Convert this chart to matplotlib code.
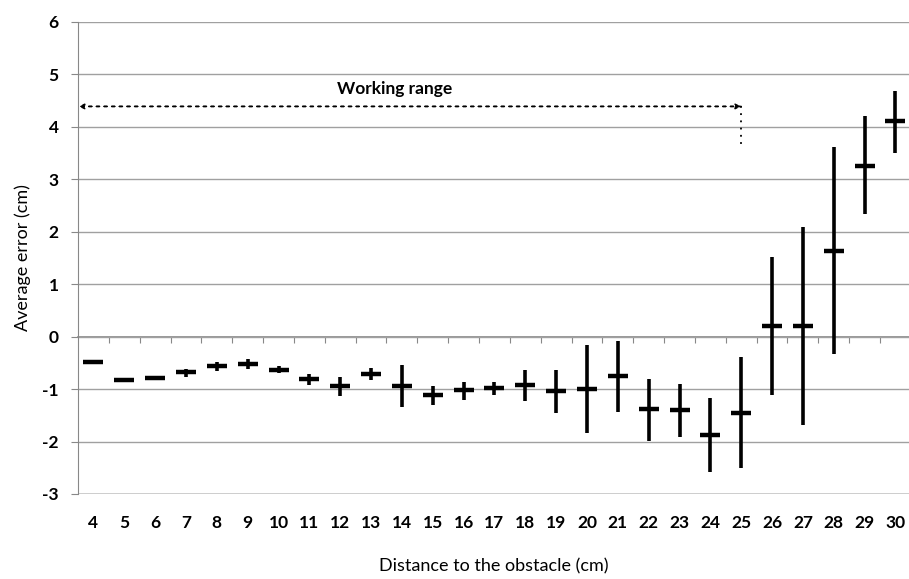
import matplotlib.pyplot as plt
import numpy as np

distances = list(range(4, 31))
mean_err = [-0.49, -0.82, -0.78, -0.68, -0.56, -0.52, -0.63, -0.81, -0.94, -0.71,
            -0.94, -1.11, -1.02, -0.98, -0.93, -1.03, -1.00, -0.75, -1.38, -1.40,
            -1.88, -1.46, 0.20, 0.21, 1.64, 3.26, 4.11]
err_low = [-0.49, -0.84, -0.80, -0.76, -0.65, -0.62, -0.70, -0.92, -1.14, -0.82,
           -1.35, -1.30, -1.20, -1.12, -1.23, -1.45, -1.84, -1.43, -1.98, -1.92,
           -2.59, -2.51, -1.12, -1.69, -0.33, 2.33, 3.51]
err_high = [-0.49, -0.80, -0.76, -0.62, -0.48, -0.43, -0.56, -0.71, -0.76, -0.60,
            -0.54, -0.94, -0.86, -0.86, -0.63, -0.63, -0.15, -0.08, -0.80, -0.91,
            -1.17, -0.39, 1.51, 2.10, 3.61, 4.20, 4.68]

plt.rcParams["font.family"] = ["Lato", "DejaVu Sans"]

fig = plt.figure(figsize=(9.09, 5.79), dpi=100)
ax = fig.add_axes([78 / 909, 1 - 494 / 579, 1 - 78 / 909, (494 - 22) / 579])

x = np.arange(len(distances)) + 4
m = np.array(mean_err)
yerr = [m - np.array(err_low), np.array(err_high) - m]
ax.errorbar(x, m, yerr=yerr, fmt="_", color="black", ecolor="black",
            elinewidth=2.6, markersize=15, mew=3.2, capsize=0, zorder=3)

ax.set_xlim(3.5, 30.44)
ax.set_ylim(-3, 6)
ax.set_yticks(range(-3, 7))
ax.set_yticklabels([str(v) for v in range(-3, 7)], fontsize=12.5, fontweight="bold")
ax.set_xticks(x)
ax.set_xticklabels([str(d) for d in distances], fontsize=12.5, fontweight="bold")
ax.tick_params(axis="x", length=0, pad=15)
ax.tick_params(axis="y", length=5, color="#888888", pad=9)

ax.grid(axis="y", color="#a0a0a0", linewidth=1.0)
ax.set_axisbelow(True)
for side in ["top", "right", "bottom"]:
    ax.spines[side].set_visible(False)
ax.spines["left"].set_color("#888888")
ax.axhline(-3, color="#c8c8c8", linewidth=1.2, zorder=1)

# category axis crossing at zero
sec = ax.secondary_xaxis(1 / 3)
sec.set_xticks(np.arange(4.5, 30.5, 1))
sec.set_xticklabels([])
sec.tick_params(direction="out", length=4, color="#888888")
sec.spines["bottom"].set_color("#888888")
sec.spines["bottom"].set_linewidth(1.2)

# working range annotation
ax.annotate("", xy=(3.52, 4.39), xytext=(25, 4.39),
            arrowprops=dict(arrowstyle="-|>", linestyle=(0, (2, 3)), color="black",
                            lw=1.1, mutation_scale=8, shrinkA=0, shrinkB=0))
ax.annotate("", xy=(25, 4.39), xytext=(3.6, 4.39),
            arrowprops=dict(arrowstyle="-|>", linestyle=(0, (2, 3)), color="black",
                            lw=1.1, mutation_scale=8, shrinkA=0, shrinkB=0))
ax.plot([25, 25], [4.39, 3.64], color="black", linestyle=(0, (1, 3)), lw=1.3)
ax.text(13.76, 4.72, "Working range", ha="center", va="center",
        fontsize=12.5, fontweight="bold")

ax.set_ylabel("Average error (cm)", fontsize=13, labelpad=8)
fig.text(0.5 + 39 / 909, 1 - 566 / 579, "Distance to the obstacle (cm)",
         ha="center", va="center", fontsize=13)

fig.savefig("out.png", dpi=100)
